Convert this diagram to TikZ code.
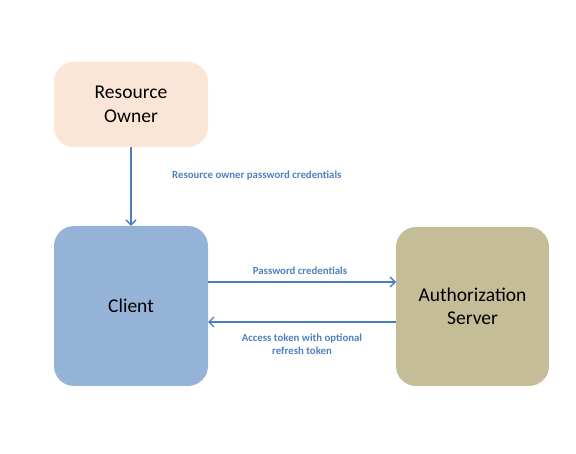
\documentclass[tikz,border=0pt]{standalone}
\usepackage{fontspec}
\setmainfont{Carlito}
\usetikzlibrary{arrows.meta}
\definecolor{ownerfill}{HTML}{FBE5D6}
\definecolor{clientfill}{HTML}{95B3D7}
\definecolor{serverfill}{HTML}{C4BD97}
\definecolor{arrowblue}{HTML}{4A7EBB}
\definecolor{labelblue}{HTML}{4F81BD}
\begin{document}
\begin{tikzpicture}[x=1pt,y=-1pt,
  box/.style={rounded corners=20pt, draw=none, inner sep=0pt, align=center, font=\fontsize{19.5}{23.5}\selectfont},
  conn/.style={draw=arrowblue, line width=1.3pt, -{Straight Barb[length=5pt,width=10pt,line width=1.3pt]}},
  lbl/.style={text=labelblue, font=\fontsize{10.8}{13}\selectfont\bfseries, align=center, inner sep=0pt}]
\useasboundingbox (0,0) rectangle (576,454);
\node[box, fill=ownerfill, minimum width=154pt, minimum height=85pt] (owner) at (131,104.5) {Resource\\Owner};
\node[box, fill=clientfill, minimum width=154pt, minimum height=160pt] (client) at (131,306) {Client};
\node[box, fill=serverfill, minimum width=153pt, minimum height=159pt] (server) at (472.5,306.5) {Authorization\\Server};
\draw[conn] (owner.south) -- (client.north);
\coordinate (c1) at (208,282);
\coordinate (s1) at (396,282);
\coordinate (c2) at (208,322);
\coordinate (s2) at (396,322);
\draw[conn] (c1) -- (s1);
\draw[conn] (s2) -- (c2);
\node[lbl, anchor=west] (l1) at (172,176) {Resource owner password credentials};
\node[lbl] (l2) at (300,270.5) {Password credentials};
\node[lbl] (l3) at (302,344.5) {Access token with optional\\refresh token};
\end{tikzpicture}
\end{document}
